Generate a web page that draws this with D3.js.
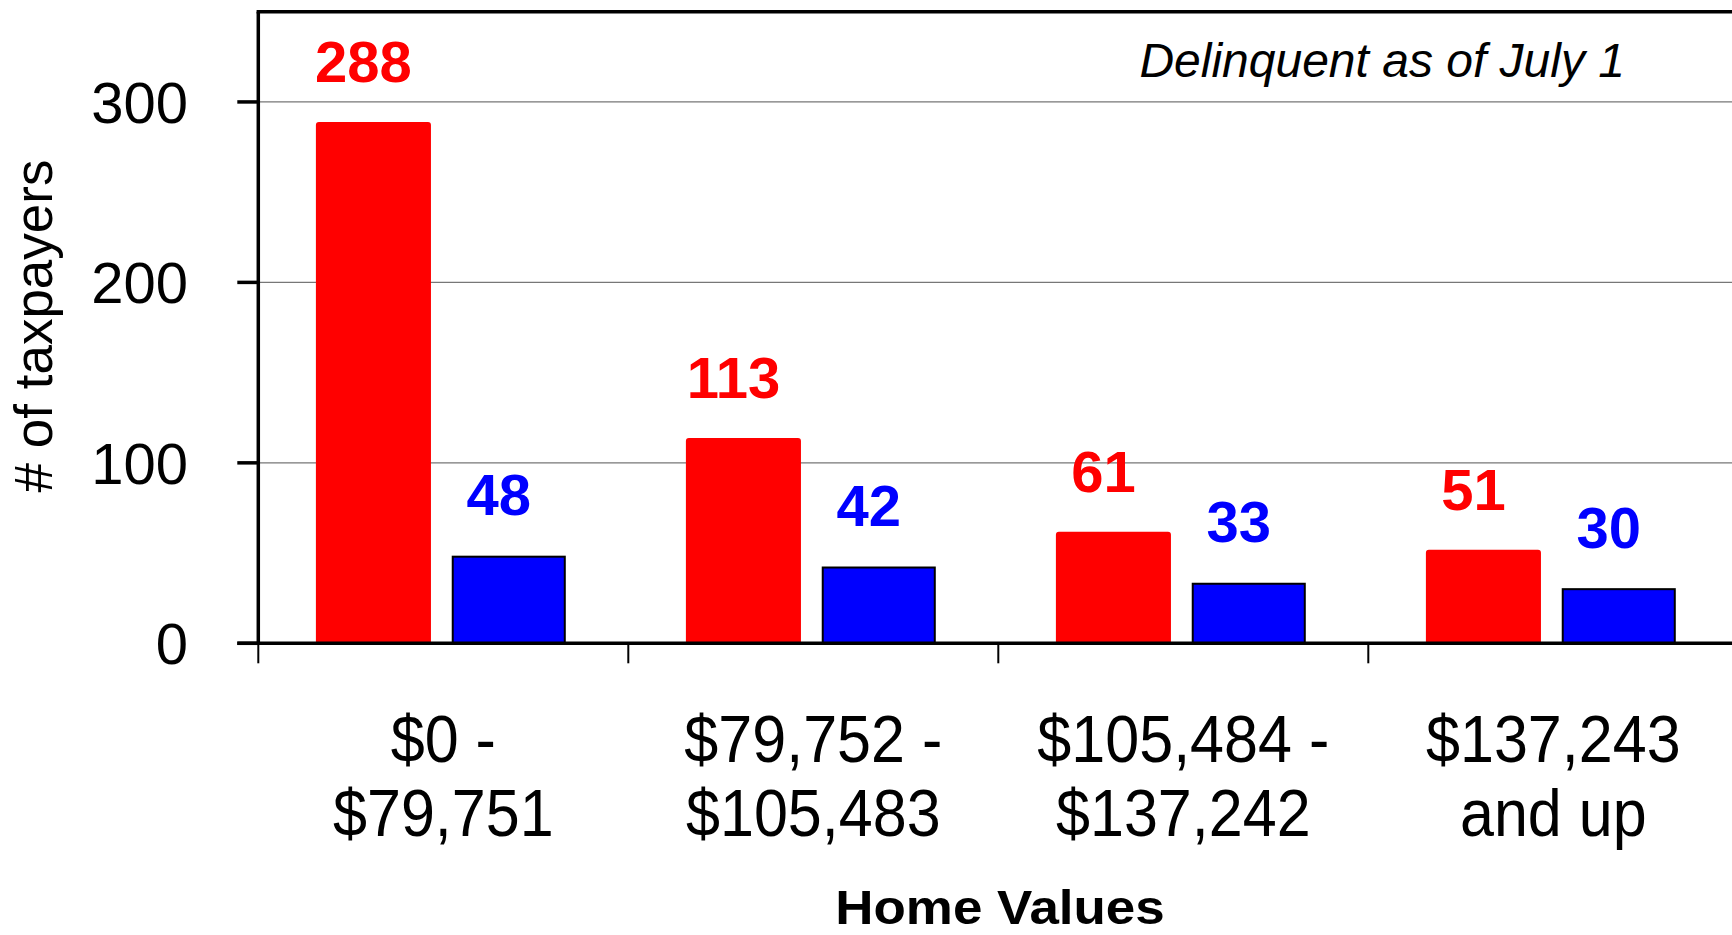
<!DOCTYPE html>
<html>
<head>
<meta charset="utf-8">
<script src="https://cdn.jsdelivr.net/npm/d3@7"></script>
<style>
  body { margin: 0; background: #fff; }
  svg { display: block; font-family: "Liberation Sans", Arial, sans-serif; }
</style>
</head>
<body>
<div class="chart"></div>
<script>
// values
const categories = [
  ["$0 -", "$79,751"],
  ["$79,752 -", "$105,483"],
  ["$105,484 -", "$137,242"],
  ["$137,243", "and up"]
]
const seriesNames = ["first", "second"]
const firstValues = [288, 113, 61, 51]
const secondValues = [48, 42, 33, 30]
const yTicks = [0, 100, 200, 300]

const width = 1732
const height = 935
const plot = {left: 258.3, top: 11.7, bottom: 643.3, catWidth: 370}
const colors = {first: "#ff0000", second: "#0000ff"}

const rows = categories.map((c, i) => ({
  cat: i, first: firstValues[i], second: secondValues[i]
}))

const x0 = d3.scaleBand()
  .domain(d3.range(categories.length))
  .range([plot.left, plot.left + plot.catWidth * categories.length])

const x1 = d3.scaleBand()
  .domain(seriesNames)
  .range([0, x0.bandwidth()])
  .paddingInner(0.172)
  .paddingOuter(0.453)
  .align(0.482)

const y = d3.scaleLinear()
  .domain([0, 350])
  .range([plot.bottom, plot.top])

const svg = d3.select(".chart").append("svg")
  .attr("width", width)
  .attr("height", height)

// gridlines
svg.selectAll(".grid")
  .data(yTicks.filter(d => d > 0))
  .enter().append("line")
  .attr("class", "grid")
  .attr("x1", plot.left).attr("x2", width)
  .attr("y1", d => y(d)).attr("y2", d => y(d))
  .attr("stroke", "#777")
  .attr("stroke-width", 1.3)

// bars
const groups = svg.selectAll(".cat")
  .data(rows)
  .enter().append("g")
  .attr("class", "cat")
  .attr("transform", d => "translate(" + x0(d.cat) + ",0)")

groups.selectAll("rect")
  .data(d => seriesNames.map(k => ({key: k, value: d[k]})))
  .enter().append("rect")
  .attr("x", d => x1(d.key))
  .attr("width", x1.bandwidth())
  .attr("y", d => y(d.value))
  .attr("height", d => y(0) - y(d.value))
  .attr("rx", d => d.key === "first" ? 1.5 : 0)
  .attr("fill", d => colors[d.key])
  .attr("stroke", d => d.key === "second" ? "#000" : colors.first)
  .attr("stroke-width", d => d.key === "second" ? 2 : 3)

groups.selectAll(".val")
  .data(d => seriesNames.map(k => ({key: k, value: d[k]})))
  .enter().append("text")
  .attr("class", "val")
  .attr("x", d => x1(d.key) + x1.bandwidth() / 2 - 10)
  .attr("y", d => y(d.value) - 41.5)
  .attr("text-anchor", "middle")
  .attr("font-size", "58px")
  .attr("font-weight", "bold")
  .attr("fill", d => colors[d.key])
  .text(d => d.value)

// frame: left and top
svg.append("line")
  .attr("x1", plot.left).attr("x2", plot.left)
  .attr("y1", plot.top).attr("y2", plot.bottom)
  .attr("stroke", "#000").attr("stroke-width", 3.5)
svg.append("line")
  .attr("x1", plot.left - 1.7).attr("x2", width)
  .attr("y1", plot.top).attr("y2", plot.top)
  .attr("stroke", "#000").attr("stroke-width", 3.5)

// y axis ticks + labels
svg.selectAll(".ytick")
  .data(yTicks)
  .enter().append("line")
  .attr("class", "ytick")
  .attr("x1", plot.left - 21).attr("x2", plot.left)
  .attr("y1", d => y(d)).attr("y2", d => y(d))
  .attr("stroke", "#000").attr("stroke-width", 3.5)

svg.selectAll(".ylab")
  .data(yTicks)
  .enter().append("text")
  .attr("class", "ylab")
  .attr("x", 188)
  .attr("y", d => y(d))
  .attr("dy", "0.36em")
  .attr("text-anchor", "end")
  .attr("font-size", "58px")
  .text(d => d)

// x axis line + category ticks
svg.append("line")
  .attr("x1", plot.left - 21).attr("x2", width)
  .attr("y1", plot.bottom).attr("y2", plot.bottom)
  .attr("stroke", "#000").attr("stroke-width", 3.5)

svg.selectAll(".xtick")
  .data(d3.range(categories.length))
  .enter().append("line")
  .attr("class", "xtick")
  .attr("x1", d => x0(d)).attr("x2", d => x0(d))
  .attr("y1", plot.bottom).attr("y2", plot.bottom + 20)
  .attr("stroke", "#000").attr("stroke-width", 2)

// category labels (slightly narrow face)
const catLab = svg.selectAll(".xlab")
  .data(categories)
  .enter().append("g")
  .attr("class", "xlab")
  .attr("transform", (d, i) => "translate(" + (x0(i) + x0.bandwidth() / 2) + ",0) scale(0.925,1)")

catLab.selectAll("text")
  .data(d => d)
  .enter().append("text")
  .attr("x", 0)
  .attr("y", (d, i) => 762 + i * 74)
  .attr("text-anchor", "middle")
  .attr("font-size", "66px")
  .text(d => d)

// axis titles
svg.append("g")
  .attr("transform", "translate(1000,924) scale(1.08,1)")
  .append("text")
  .attr("text-anchor", "middle")
  .attr("font-size", "49px")
  .attr("font-weight", "bold")
  .text("Home Values")

svg.append("text")
  .attr("transform", "translate(52,326) rotate(-90)")
  .attr("text-anchor", "middle")
  .attr("font-size", "53px")
  .text("# of taxpayers")

svg.append("text")
  .attr("x", 1625)
  .attr("y", 77)
  .attr("text-anchor", "end")
  .attr("font-size", "48px")
  .attr("font-style", "italic")
  .text("Delinquent as of July 1")
</script>
</body>
</html>
